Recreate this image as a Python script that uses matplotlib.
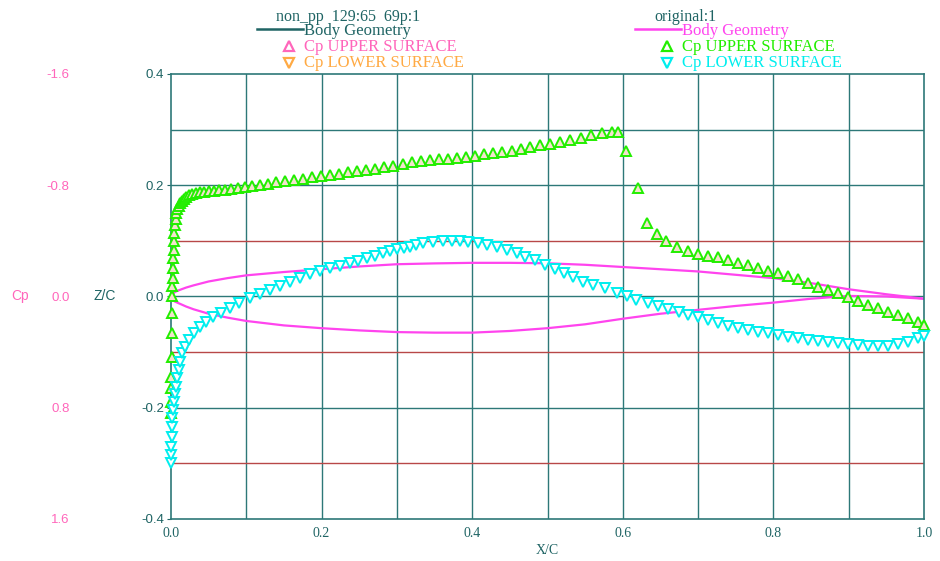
import matplotlib
matplotlib.use("Agg")
import matplotlib.pyplot as plt
from matplotlib.lines import Line2D

# ---- data ----
# body geometry (Z/C)
geo_x = [0.0, 0.005, 0.01, 0.02, 0.03, 0.05, 0.075, 0.1, 0.15, 0.2, 0.25, 0.3, 0.35,
         0.4, 0.45, 0.5, 0.55, 0.6, 0.65, 0.7, 0.75, 0.8, 0.85, 0.9, 0.95, 1.0]
geo_upper = [0.0, 0.008, 0.011, 0.016, 0.020, 0.027, 0.033, 0.038, 0.044, 0.049, 0.054,
             0.058, 0.0595, 0.0605, 0.0605, 0.0597, 0.057, 0.053, 0.049, 0.045, 0.039,
             0.033, 0.024, 0.013, 0.004, -0.004]
geo_lower = [0.0, -0.009, -0.012, -0.018, -0.023, -0.031, -0.038, -0.044, -0.052, -0.057,
             -0.061, -0.064, -0.065, -0.065, -0.062, -0.057, -0.050, -0.040, -0.031,
             -0.024, -0.017, -0.011, -0.004, 0.001, 0.0, -0.004]

# Cp upper surface
up_x = [0.0, 0.0002, 0.0003, 0.0005, 0.0008, 0.001, 0.0012, 0.0015, 0.0018, 0.0022,
        0.0026, 0.003, 0.0035, 0.004, 0.0045, 0.0052, 0.006, 0.007, 0.0085, 0.01,
        0.012, 0.014, 0.017, 0.02, 0.024, 0.028, 0.033, 0.038, 0.044, 0.05,
        0.057, 0.064, 0.072, 0.08, 0.089, 0.098, 0.108, 0.118, 0.129, 0.14,
        0.151, 0.163, 0.175, 0.187, 0.199, 0.211, 0.223, 0.235, 0.247, 0.259,
        0.271, 0.283, 0.295, 0.308, 0.32, 0.332, 0.344, 0.356, 0.368, 0.38,
        0.392, 0.404, 0.416, 0.428, 0.44, 0.453, 0.465, 0.477, 0.49, 0.503,
        0.516, 0.53, 0.544, 0.558, 0.572, 0.585, 0.593, 0.604, 0.62, 0.632,
        0.645, 0.658, 0.672, 0.687, 0.7, 0.7135, 0.727, 0.74, 0.7534, 0.7667,
        0.78, 0.793, 0.8065, 0.82, 0.833, 0.8464, 0.8597, 0.873, 0.886, 0.8995,
        0.9127, 0.926, 0.939, 0.9526, 0.966, 0.979, 0.9925, 1.0]
up_cp = [0.84, 0.76, 0.66, 0.576, 0.432, 0.264, 0.12, 0.0, -0.072, -0.132,
         -0.204, -0.276, -0.336, -0.396, -0.456, -0.516, -0.56, -0.6, -0.632, -0.652,
         -0.672, -0.688, -0.704, -0.716, -0.728, -0.736, -0.744, -0.748, -0.752, -0.756,
         -0.76, -0.764, -0.768, -0.772, -0.78, -0.784, -0.792, -0.8, -0.808, -0.82,
         -0.832, -0.84, -0.848, -0.856, -0.868, -0.876, -0.884, -0.892, -0.9, -0.912,
         -0.92, -0.928, -0.94, -0.952, -0.964, -0.972, -0.98, -0.988, -0.992, -0.996,
         -1.004, -1.012, -1.024, -1.032, -1.04, -1.048, -1.06, -1.072, -1.088, -1.1,
         -1.112, -1.124, -1.14, -1.16, -1.176, -1.184, -1.182, -1.048, -0.78, -0.528,
         -0.448, -0.4, -0.356, -0.324, -0.306, -0.292, -0.282, -0.262, -0.243, -0.227,
         -0.207, -0.186, -0.167, -0.148, -0.124, -0.099, -0.07, -0.047, -0.023, 0.002,
         0.03, 0.061, 0.085, 0.109, 0.133, 0.157, 0.181, 0.205]

# Cp lower surface
lo_x = [0.0, 0.0003, 0.0006, 0.001, 0.0015, 0.002, 0.003, 0.004, 0.005, 0.0065,
        0.008, 0.01, 0.0125, 0.015, 0.019, 0.024, 0.03, 0.038, 0.046, 0.056,
        0.066, 0.078, 0.09, 0.105, 0.118, 0.131, 0.145, 0.158, 0.171, 0.1846,
        0.198, 0.211, 0.224, 0.2377, 0.249, 0.26, 0.271, 0.282, 0.291, 0.3,
        0.309, 0.3174, 0.326, 0.335, 0.348, 0.3616, 0.3728, 0.3838, 0.395, 0.408,
        0.419, 0.4325, 0.4458, 0.459, 0.47, 0.4834, 0.4967, 0.51, 0.522, 0.534,
        0.5475, 0.561, 0.576, 0.592, 0.605, 0.618, 0.634, 0.647, 0.66, 0.674,
        0.687, 0.7, 0.7135, 0.727, 0.74, 0.7534, 0.7667, 0.78, 0.793, 0.8065,
        0.82, 0.833, 0.8464, 0.8597, 0.873, 0.886, 0.8995, 0.9127, 0.926, 0.939,
        0.9526, 0.966, 0.979, 0.9925, 1.0]
lo_cp = [1.2, 1.14, 1.08, 1.008, 0.94, 0.872, 0.816, 0.76, 0.704, 0.648,
         0.588, 0.528, 0.468, 0.408, 0.36, 0.312, 0.264, 0.216, 0.18, 0.144,
         0.116, 0.084, 0.048, 0.012, -0.016, -0.047, -0.076, -0.106, -0.136, -0.162,
         -0.184, -0.203, -0.22, -0.239, -0.256, -0.275, -0.292, -0.311, -0.324, -0.34,
         -0.348, -0.358, -0.372, -0.383, -0.394, -0.402, -0.402, -0.402, -0.394, -0.383,
         -0.37, -0.358, -0.334, -0.311, -0.286, -0.262, -0.227, -0.196, -0.172, -0.142,
         -0.106, -0.083, -0.059, -0.023, 0.0, 0.025, 0.049, 0.068, 0.09, 0.109,
         0.133, 0.15, 0.169, 0.193, 0.212, 0.229, 0.241, 0.253, 0.265, 0.277,
         0.289, 0.301, 0.313, 0.32, 0.33, 0.337, 0.344, 0.349, 0.354, 0.356,
         0.354, 0.344, 0.325, 0.301, 0.284]

zc_ticks = [0.4, 0.2, 0.0, -0.2, -0.4]
cp_ticks = [-1.6, -0.8, 0.0, 0.8, 1.6]
xc_ticks = [0.0, 0.2, 0.4, 0.6, 0.8, 1.0]

teal = '#1f6464'
pink = '#ff66bb'
green = '#22ee00'
cyan = '#00eeee'
magenta = '#ff44ee'
orange = '#ffaa44'
serif = 'Liberation Serif'
sans = 'Liberation Sans'

fig = plt.figure(figsize=(9.4, 5.61), dpi=100)
ax = fig.add_axes([0.1819, 0.0749, 0.8011, 0.7932])
ax.set_xlim(0, 1)
ax.set_ylim(-0.4, 0.4)

# grid
for gx in [0.1 * i for i in range(1, 10)]:
    ax.axvline(gx, color='#2d7878', lw=1.0, zorder=0)
for gy in [0.3, 0.2, 0.0, -0.2]:
    ax.axhline(gy, color='#2d7878', lw=1.0, zorder=0)
for gy in [0.1, -0.1, -0.3]:
    ax.axhline(gy, color='#b84848', lw=1.0, zorder=0)
for s in ax.spines.values():
    s.set_color('#2d7878')
    s.set_linewidth(1.2)

ax.plot(geo_x, geo_upper, color=magenta, lw=1.6, zorder=2)
ax.plot(geo_x, geo_lower, color=magenta, lw=1.6, zorder=2)

ax.set_yticks(zc_ticks)
ax.set_yticklabels(['0.4', '0.2', '0.0', '-0.2', '-0.4'])
ax.tick_params(axis='y', length=3, pad=2, colors=teal, labelsize=9.5)
for t in ax.get_yticklabels():
    t.set_fontfamily(sans)
ax.set_xticks(xc_ticks)
ax.set_xticklabels(['0.0', '0.2', '0.4', '0.6', '0.8', '1.0'])
ax.tick_params(axis='x', length=0, pad=6, colors=teal, labelsize=10)
for t in ax.get_xticklabels():
    t.set_fontfamily(serif)
ax.set_xlabel('X/C', color=teal, fontsize=10, family=serif, labelpad=3)

# Cp axis on the far left, inverted
ax2 = ax.twinx()
ax2.set_ylim(1.6, -1.6)
ax2.yaxis.set_ticks_position('left')
ax2.spines['left'].set_position(('outward', 67))
for s in ax2.spines.values():
    s.set_visible(False)
ax2.set_yticks(cp_ticks)
ax2.set_yticklabels(['-1.6', '-0.8', '0.0', '0.8', '1.6'])
ax2.tick_params(axis='y', length=0, pad=6, colors=pink, labelsize=9.5)
for t in ax2.get_yticklabels():
    t.set_fontfamily(sans)

ax2.plot(up_x, up_cp, ls='none', marker='^', ms=7.5, mew=1.4, mec=green,
         mfc='#f3e2cc', clip_on=False, zorder=3)
ax2.plot(lo_x, lo_cp, ls='none', marker='v', ms=7.5, mew=1.4, mec=cyan,
         mfc='white', clip_on=False, zorder=3)

fig.text(20 / 940, 1 - 296 / 561, 'Cp', color=pink, fontsize=10, family=sans,
         ha='center', va='center')
fig.text(105 / 940, 1 - 296 / 561, 'Z/C', color=teal, fontsize=10, family=sans,
         ha='center', va='center')

# legend blocks
def legend_block(x0, title, line_color, body_color, up_color, lo_color,
                 up_text_color, lo_text_color):
    fig.text(x0 - 27 / 940, 0.970, title, color=teal, fontsize=11.5, family=serif,
             va='center')
    fig.add_artist(Line2D([x0 - 46 / 940, x0], [0.948, 0.948], color=line_color,
                          lw=1.8, transform=fig.transFigure))
    fig.text(x0 + 1 / 940, 0.944, 'Body Geometry', color=body_color, fontsize=12,
             family=serif, va='center')
    fig.add_artist(Line2D([x0 - 14 / 940], [0.918], marker='^', ms=7.5, mew=1.6,
                          mec=up_color, mfc='white', ls='none',
                          transform=fig.transFigure))
    fig.text(x0 + 1 / 940, 0.916, 'Cp UPPER SURFACE', color=up_text_color,
             fontsize=12, family=serif, va='center')
    fig.add_artist(Line2D([x0 - 14 / 940], [0.888], marker='v', ms=7.5, mew=1.6,
                          mec=lo_color, mfc='white', ls='none',
                          transform=fig.transFigure))
    fig.text(x0 + 1 / 940, 0.887, 'Cp LOWER SURFACE', color=lo_text_color,
             fontsize=12, family=serif, va='center')


legend_block(303 / 940, 'non_pp  129:65  69p:1', teal, teal, pink, orange, pink, orange)
legend_block(681 / 940, 'original:1', magenta, magenta, green, cyan, green, cyan)

fig.savefig('out.png', dpi=100, facecolor='white')
